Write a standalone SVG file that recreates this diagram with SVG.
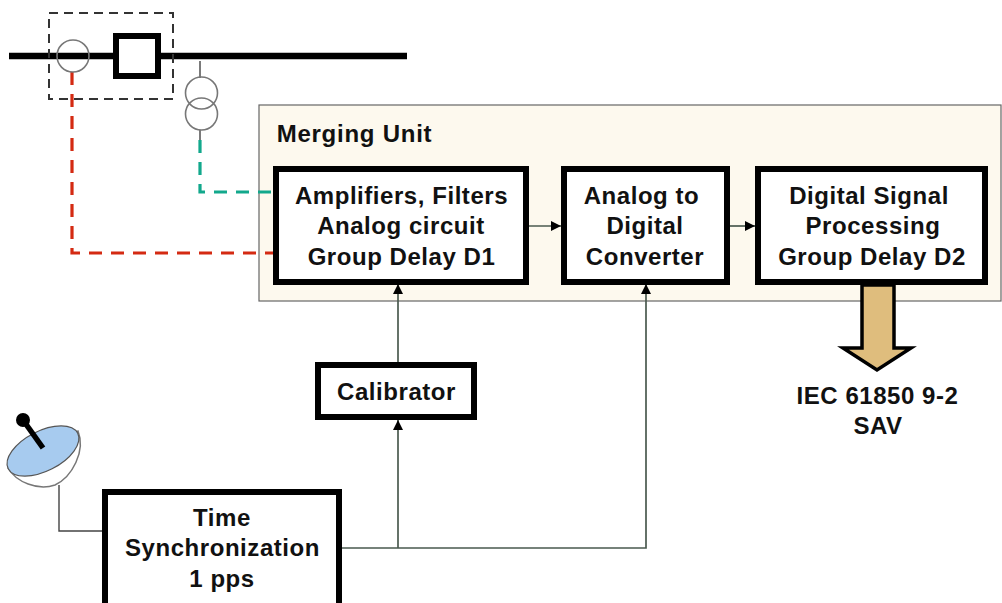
<svg xmlns="http://www.w3.org/2000/svg" width="1002" height="603" viewBox="0 0 1002 603">
<defs>
<marker id="arr" markerUnits="userSpaceOnUse" markerWidth="11" markerHeight="10" refX="10" refY="5" orient="auto"><path d="M0 0L10 5L0 10Z" fill="#000"/></marker>
</defs>
<style>
.box{fill:#fff;stroke:#000;stroke-width:6}
.t{font-family:"Liberation Sans",Arial,sans-serif;font-weight:700;font-size:24px;letter-spacing:.55px;fill:#111;text-anchor:middle}
.thin{fill:none;stroke:#4a5a4f;stroke-width:1.7}
.ring{fill:none;stroke:#777;stroke-width:1.6}
</style>
<rect width="1002" height="603" fill="#fff"/>
<g id="merging-unit"><rect x="259" y="105" width="742" height="196" fill="#fdf9ee" stroke="#666" stroke-width="1.2"/>
<text class="t" x="354.500" y="142" style="letter-spacing:.75px">Merging Unit</text></g>
<g id="connectors">
<path d="M72 72V253H276" fill="none" stroke="#d42a12" stroke-width="3.2" stroke-dasharray="13 9"/>
<path d="M200 140V192H276" fill="none" stroke="#12a88c" stroke-width="3.2" stroke-dasharray="13 9"/>
<path d="M59 485V531H104" fill="none" stroke="#444" stroke-width="1.4"/>
<path class="thin" d="M398 363V284" marker-end="url(#arr)"/>
<path class="thin" d="M398 548V420" marker-end="url(#arr)"/>
<path class="thin" d="M341 548H646V284" marker-end="url(#arr)"/>
<path class="thin" d="M527 226H561" marker-end="url(#arr)"/>
<path class="thin" d="M729 226H755" marker-end="url(#arr)"/>
<path d="M200 61V78M200 130V140" stroke="#444" stroke-width="1.4" fill="none"/>
</g>
<g id="bus"><path d="M9 56H136M160 56H407" stroke="#000" stroke-width="6.5" fill="none"/></g>
<g id="ct-enclosure"><rect x="49" y="13" width="124" height="86" fill="none" stroke="#333" stroke-width="2" stroke-dasharray="9 6"/></g>
<g id="ct"><circle cx="73" cy="56" r="16" class="ring"/></g>
<g id="breaker"><rect x="116" y="36" width="42" height="40" fill="#fff" stroke="#000" stroke-width="6"/></g>
<g id="vt"><circle cx="201.500" cy="93" r="16" class="ring"/><circle cx="201.500" cy="114" r="16" class="ring"/></g>
<g id="amplifiers"><rect class="box" x="276" y="169" width="250" height="113"/>
<text class="t"><tspan x="401.500" y="204">Amplifiers, Filters</tspan><tspan x="401" y="234">Analog circuit</tspan><tspan x="401.500" y="265">Group Delay D1</tspan></text></g>
<g id="adc"><rect class="box" x="564" y="169" width="163" height="113"/>
<text class="t"><tspan x="641.500" y="204">Analog to</tspan><tspan x="645" y="234">Digital</tspan><tspan x="645" y="265">Converter</tspan></text></g>
<g id="dsp"><rect class="box" x="758" y="169" width="227" height="113"/>
<text class="t"><tspan x="869" y="204">Digital Signal</tspan><tspan x="873" y="234">Processing</tspan><tspan x="872" y="265">Group Delay D2</tspan></text></g>
<g id="sav-arrow"><path d="M862 285H894V348H911L877 370L843 348H862Z" fill="#dfbd7d" stroke="#000" stroke-width="3.500"/></g>
<g id="sav-label"><text class="t"><tspan x="877.500" y="404">IEC 61850 9-2</tspan><tspan x="878" y="434">SAV</tspan></text></g>
<g id="calibrator"><rect class="box" x="318" y="365" width="156" height="52"/><text class="t" x="396.500" y="400">Calibrator</text></g>
<g id="time-sync"><rect class="box" x="105" y="492" width="234" height="120"/>
<text class="t"><tspan x="222" y="526">Time</tspan><tspan x="222.500" y="556">Synchronization</tspan><tspan x="222" y="587">1 pps</tspan></text></g>
<g id="dish">
<path d="M8 468C16 482 38 491 55 485C72 477 86 451 78 431Z" fill="#fff" stroke="#777" stroke-width="1.5"/>
<ellipse cx="43" cy="451" rx="39" ry="20" transform="rotate(-27 43 451)" fill="#a7cbef" stroke="#555" stroke-width="1.2"/>
<path d="M23 420L43 448" stroke="#000" stroke-width="5.500"/><circle cx="23" cy="420" r="7" fill="#000"/>
</g>
</svg>
